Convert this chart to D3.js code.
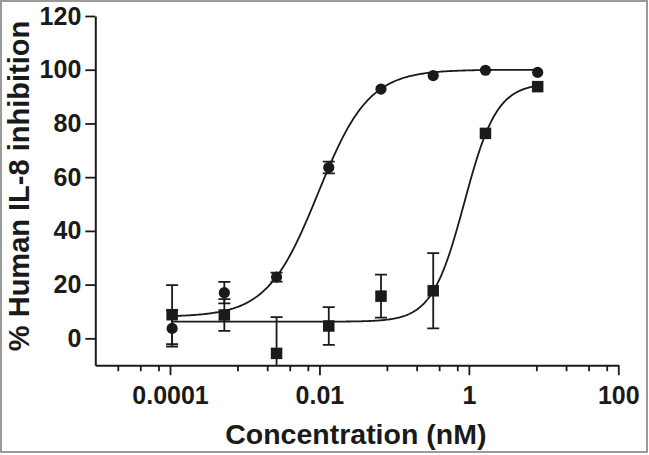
<!DOCTYPE html>
<html>
<head>
<meta charset="utf-8">
<script src="https://cdn.jsdelivr.net/npm/d3@7"></script>
<style>
  html, body { margin: 0; padding: 0; background: #ffffff; }
  svg { display: block; }
  text { font-family: "Liberation Sans", Arial, Helvetica, sans-serif; font-weight: bold; fill: #1a1a1a; }
</style>
</head>
<body>
<svg id="chart" width="649" height="455"></svg>
<script>
// ---------- data ----------
const concentrations = [0.0001067, 0.0005333, 0.002667, 0.01333, 0.06667, 0.3333, 1.667, 8.333];
const circleValues = [3.7, 17.0, 22.8, 63.6, 92.8, 97.8, 99.8, 99.0];
const circleErrors = [6.8, 4.0, 1.7, 2.2, 0, 0, 0, 0];
const squareValues = [8.8, 8.7, -5.6, 4.6, 15.7, 17.7, 76.3, 93.7];
const squareErrors = [11.0, 5.9, 13.5, 7.0, 8.0, 14.0, 0, 0];
// four-parameter logistic fits: [bottom, top, EC50, Hill]
const circleFit = [8.0, 100.0, 0.00957, 1.28];
const squareFit = [6.2, 95.0, 0.87, 2.0];
const yTicks = [0, 20, 40, 60, 80, 100, 120];
const xMajorTicks = [0.0001, 0.01, 1, 100];
const xMajorLabels = ["0.0001", "0.01", "1", "100"];
const xMinorTicks = [0.00002, 0.00004, 0.00007, 0.0008, 0.002, 0.004, 0.007, 0.08, 0.2, 0.4, 0.7, 8, 20, 40, 70];
const xTitle = "Concentration (nM)";
const yTitle = "% Human IL-8 inhibition";

// ---------- layout ----------
const W = 649, H = 455;
const plot = { left: 95.3, right: 618.3, top: 16, bottom: 365.2 };
const ink = "#1a1a1a";

const svg = d3.select("#chart");

svg.append("rect")
  .attr("x", 1).attr("y", 1).attr("width", W - 3).attr("height", H - 4)
  .attr("fill", "#ffffff").attr("stroke", "#9a9a9a").attr("stroke-width", 2);

const x = d3.scaleLog().domain([1e-5, 100]).range([plot.left, plot.right]);
const y = d3.scaleLinear().domain([-10, 120]).range([plot.bottom, plot.top]);

svg.append("clipPath").attr("id", "clip")
  .append("rect")
  .attr("x", plot.left).attr("y", plot.top - 10)
  .attr("width", plot.right - plot.left + 10).attr("height", plot.bottom - plot.top + 10);

// ---------- axes ----------
const yAxis = d3.axisLeft(y).tickValues(yTicks).tickSize(10).tickSizeOuter(0).tickPadding(4)
  .tickFormat(d3.format("d"));
const gy = svg.append("g").attr("transform", `translate(${plot.left},0)`).call(yAxis);

const xMinor = d3.axisBottom(x).tickValues(xMinorTicks).tickSize(6).tickSizeOuter(0).tickFormat("");
const gxm = svg.append("g").attr("transform", `translate(0,${plot.bottom})`).call(xMinor);
gxm.select(".domain").remove();

const xAxis = d3.axisBottom(x).tickValues(xMajorTicks).tickSize(10).tickSizeOuter(0).tickPadding(11)
  .tickFormat((d, i) => xMajorLabels[i]);
const gx = svg.append("g").attr("transform", `translate(0,${plot.bottom})`).call(xAxis);

[gy, gx, gxm].forEach(g => {
  g.selectAll("path.domain").attr("stroke", ink).attr("stroke-width", 2);
  g.selectAll(".tick line").attr("stroke", ink).attr("stroke-width", 1.8);
  g.selectAll(".tick text").attr("font-size", 25).attr("fill", ink)
    .style("font-family", '"Liberation Sans", Arial, sans-serif').style("font-weight", "bold");
});

svg.append("text")
  .attr("x", (plot.left + plot.right) / 2 - 1).attr("y", 444)
  .attr("text-anchor", "middle").attr("font-size", 28.5)
  .text(xTitle);

svg.append("text")
  .attr("transform", "translate(29,186) rotate(-90)")
  .attr("text-anchor", "middle").attr("font-size", 29)
  .text(yTitle);

// ---------- fitted curves ----------
function logistic(p, c) {
  const [bottom, top, ec50, hill] = p;
  return bottom + (top - bottom) / (1 + Math.pow(ec50 / c, hill));
}
const xs = d3.range(0, 301).map(i => {
  const a = Math.log10(concentrations[0]), b = Math.log10(concentrations[concentrations.length - 1]);
  return Math.pow(10, a + (b - a) * i / 300);
});
const line = d3.line().x(d => x(d[0])).y(d => y(d[1]));
[circleFit, squareFit].forEach(p => {
  svg.append("path")
    .attr("d", line(xs.map(c => [c, logistic(p, c)])))
    .attr("fill", "none").attr("stroke", ink).attr("stroke-width", 1.8);
});

// ---------- error bars and markers ----------
function series(values, errors, symbolType, size) {
  const g = svg.append("g");
  const eg = g.append("g").attr("clip-path", "url(#clip)");
  concentrations.forEach((c, i) => {
    if (!errors[i]) return;
    const cx = x(c);
    const lo = y(values[i] - errors[i]), hi = y(values[i] + errors[i]);
    eg.append("line").attr("x1", cx).attr("x2", cx).attr("y1", lo).attr("y2", hi)
      .attr("stroke", ink).attr("stroke-width", 1.8);
    [lo, hi].forEach(yy => {
      eg.append("line").attr("x1", cx - 6).attr("x2", cx + 6).attr("y1", yy).attr("y2", yy)
        .attr("stroke", ink).attr("stroke-width", 1.8);
    });
  });
  g.selectAll("path.mark").data(values).enter().append("path")
    .attr("class", "mark")
    .attr("transform", (d, i) => `translate(${x(concentrations[i])},${y(d)})`)
    .attr("d", d3.symbol().type(symbolType).size(size)())
    .attr("fill", ink);
}
series(circleValues, circleErrors, d3.symbolCircle, Math.PI * 5.6 * 5.6);
series(squareValues, squareErrors, d3.symbolSquare, 11.5 * 11.5);
</script>
</body>
</html>
